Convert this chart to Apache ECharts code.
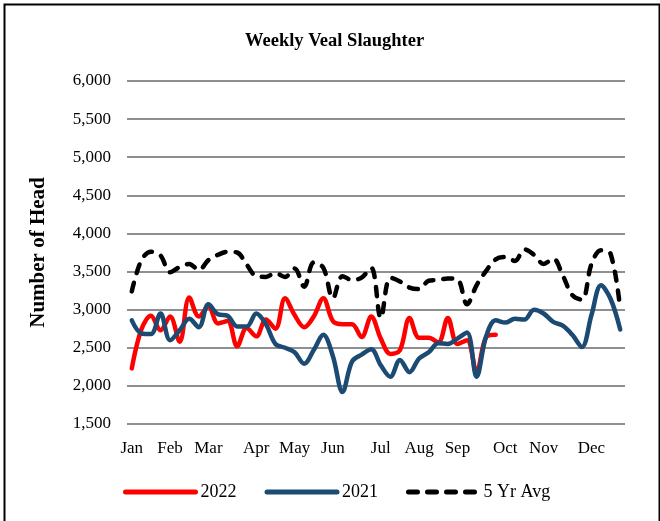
<!DOCTYPE html>
<html>
<head>
<meta charset="utf-8">
<script src="https://cdn.jsdelivr.net/npm/echarts@6/dist/echarts.min.js"></script>
<style>
  html, body { margin: 0; padding: 0; background: #fff; }
  #chart { width: 660px; height: 521px; }
</style>
</head>
<body>
<div id="chart"></div>
<script>
// Weekly veal slaughter, head per week (weeks 1..52)
const monthNames = ['Jan', 'Feb', 'Mar', 'Apr', 'May', 'Jun', 'Jul', 'Aug', 'Sep', 'Oct', 'Nov', 'Dec'];
// week index (0-based) where each month label sits
const monthWeeks = [0, 4, 8, 13, 17, 21, 26, 30, 34, 39, 43, 48];

const slaughter2022 = [
  2230, 2740, 2920, 2730, 2910, 2580, 3160, 2910, 3040, 2820,
  2850, 2520, 2760, 2650, 2870, 2750, 3150, 2930, 2770, 2910,
  3150, 2850, 2810, 2810, 2640, 2910, 2620, 2420, 2470, 2890,
  2630, 2630, 2570, 2890, 2550, 2600, 2180, 2640, 2670
];
const slaughter2021 = [
  2860, 2690, 2680, 2950, 2600, 2730, 2880, 2770, 3070, 2940,
  2920, 2780, 2780, 2950, 2810, 2550, 2500, 2440, 2290, 2470,
  2670, 2390, 1920, 2320, 2410, 2480, 2270, 2120, 2340, 2180,
  2360, 2440, 2560, 2550, 2620, 2700, 2120, 2650, 2860, 2830,
  2880, 2870, 3000, 2950, 2840, 2790, 2670, 2510, 2930, 3320,
  3140, 2740
];
const fiveYrAvg = [
  3240, 3650, 3760, 3710, 3490, 3560, 3600, 3520, 3650, 3720,
  3760, 3750, 3590, 3440, 3430, 3480, 3430, 3540, 3300, 3620,
  3550, 3150, 3440, 3390, 3420, 3550, 2890, 3420, 3370, 3290,
  3270, 3380, 3390, 3410, 3400, 3070, 3320, 3510, 3660, 3690,
  3640, 3790, 3720, 3600, 3670, 3450, 3190, 3130, 3600, 3780,
  3730, 3010
];

const yTicks = { min: 1500, max: 6000, step: 500 };

const toPoints = arr => arr.map((v, i) => [i, v]);
const serif = '"Liberation Serif", "Times New Roman", serif';

const chart = echarts.init(document.getElementById('chart'), null, { renderer: 'canvas' });

chart.setOption({
  backgroundColor: '#ffffff',
  animation: false,
  title: {
    text: 'Weekly Veal Slaughter',
    left: 240,
    top: 27,
    textStyle: { fontFamily: serif, fontSize: 18.5, fontWeight: 'bold', color: '#000' }
  },
  legend: {
    left: 118,
    top: 478,
    itemWidth: 70,
    itemHeight: 20,
    itemGap: 28,
    itemStyle: { opacity: 0 },
    lineStyle: { width: 5 },
    textStyle: { fontFamily: serif, fontSize: 18, color: '#000', padding: [0, 0, 0, 0] },
    data: ['2022', '2021', '5 Yr Avg']
  },
  grid: { left: 127, right: 35, top: 81, bottom: 97, containLabel: false },
  xAxis: {
    type: 'value',
    min: -0.5,
    max: 51.5,
    splitLine: { show: false },
    axisLine: { show: false },
    axisTick: { show: false },
    axisLabel: {
      customValues: monthWeeks,
      formatter: v => monthNames[monthWeeks.indexOf(Math.round(v))] || '',
      fontFamily: serif,
      fontSize: 17,
      color: '#000',
      margin: 16
    }
  },
  yAxis: {
    type: 'value',
    min: yTicks.min,
    max: yTicks.max,
    interval: yTicks.step,
    name: 'Number of Head',
    nameLocation: 'middle',
    nameGap: 78,
    nameTextStyle: { fontFamily: serif, fontSize: 21, fontWeight: 'bold', color: '#000' },
    axisLine: { show: false },
    axisTick: { show: false },
    splitLine: { lineStyle: { color: '#8f8f8f', width: 2 } },
    axisLabel: {
      formatter: v => v.toLocaleString('en-US'),
      fontFamily: serif,
      fontSize: 17,
      color: '#000',
      margin: 16
    }
  },
  series: [
    {
      name: '2022',
      type: 'line',
      data: toPoints(slaughter2022),
      smooth: 0.35,
      symbol: 'none',
      lineStyle: { color: '#ff0000', width: 4.5, cap: 'round', join: 'round' },
      itemStyle: { color: '#ff0000' }
    },
    {
      name: '2021',
      type: 'line',
      data: toPoints(slaughter2021),
      smooth: 0.35,
      symbol: 'none',
      lineStyle: { color: '#1b4a72', width: 4.5, cap: 'round', join: 'round' },
      itemStyle: { color: '#1b4a72' }
    },
    {
      name: '5 Yr Avg',
      type: 'line',
      data: toPoints(fiveYrAvg),
      smooth: 0.35,
      symbol: 'none',
      lineStyle: { color: '#000000', width: 4.5, type: [9, 10], cap: 'round', join: 'round' },
      itemStyle: { color: '#000000' }
    }
  ],
  graphic: [
    {
      type: 'rect',
      left: 2,
      top: 2,
      shape: { width: 655, height: 530 },
      style: { fill: 'none', stroke: '#000', lineWidth: 2 },
      silent: true
    }
  ]
});
</script>
</body>
</html>
